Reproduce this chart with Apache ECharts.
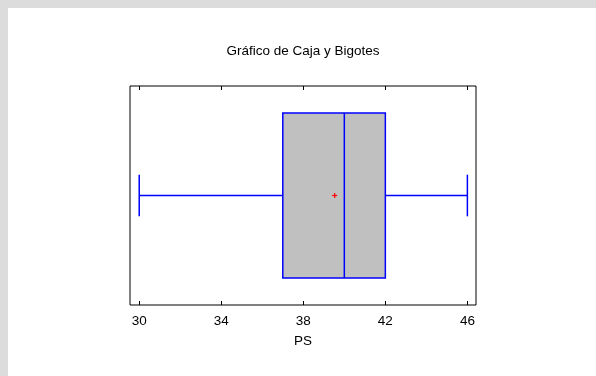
<!DOCTYPE html>
<html>
<head>
<meta charset="utf-8">
<script src="https://cdn.jsdelivr.net/npm/echarts@6/dist/echarts.min.js"></script>
<style>
  html, body { margin: 0; padding: 0; background: #dcdcdc; }
  #wrap { position: absolute; left: 8px; top: 8px; width: 588px; height: 368px; background: #ffffff; }
  #chart { position: absolute; left: -8px; top: -8px; width: 596px; height: 376px; }
</style>
</head>
<body>
<div id="wrap"><div id="chart"></div></div>
<script>
// Variable name and five-number summary plus mean
const categories = ['PS'];
const whiskerLow = [30];
const quartile1 = [37];
const median = [40];
const quartile3 = [42];
const whiskerHigh = [46];
const mean = [39.53];
const tickValues = [30, 34, 38, 42, 46];

const seriesData = categories.map((c, i) => [
  i, whiskerLow[i], quartile1[i], median[i], quartile3[i], whiskerHigh[i], mean[i]
]);

const BLUE = '#0000ff';
const X_MIN = 29.55;
const X_MAX = 46.42;
const GRID = { left: 130, top: 86, width: 346, height: 219 };

function renderBox(params, api) {
  const cat = api.value(0);
  const lo = api.coord([api.value(1), cat]);
  const q1 = api.coord([api.value(2), cat]);
  const md = api.coord([api.value(3), cat]);
  const q3 = api.coord([api.value(4), cat]);
  const hi = api.coord([api.value(5), cat]);
  const mn = api.coord([api.value(6), cat]);
  const band = api.size([0, 1])[1];
  const boxH = band * 0.753;
  const capH = band * 0.19;
  const cy = lo[1];
  const lineStyle = { stroke: BLUE, lineWidth: 1.5, fill: null };
  return {
    type: 'group',
    children: [
      { type: 'line', shape: { x1: lo[0], y1: cy, x2: q1[0], y2: cy }, style: lineStyle },
      { type: 'line', shape: { x1: q3[0], y1: cy, x2: hi[0], y2: cy }, style: lineStyle },
      { type: 'line', shape: { x1: lo[0], y1: cy - capH / 2, x2: lo[0], y2: cy + capH / 2 }, style: lineStyle },
      { type: 'line', shape: { x1: hi[0], y1: cy - capH / 2, x2: hi[0], y2: cy + capH / 2 }, style: lineStyle },
      { type: 'rect', shape: { x: q1[0], y: cy - boxH / 2, width: q3[0] - q1[0], height: boxH },
        style: { fill: '#c0c0c0', stroke: BLUE, lineWidth: 1.5 } },
      { type: 'line', shape: { x1: md[0], y1: cy - boxH / 2, x2: md[0], y2: cy + boxH / 2 }, style: lineStyle },
      { type: 'line', shape: { x1: mn[0] - 2.5, y1: mn[1], x2: mn[0] + 2.5, y2: mn[1] },
        style: { stroke: '#ff0000', lineWidth: 1.2 } },
      { type: 'line', shape: { x1: mn[0], y1: mn[1] - 2.5, x2: mn[0], y2: mn[1] + 2.5 },
        style: { stroke: '#ff0000', lineWidth: 1.2 } }
    ]
  };
}

const chart = echarts.init(document.getElementById('chart'), null, { renderer: 'canvas' });
const FONT = 'Liberation Sans, Arial, sans-serif';
const FS = 13.5;

chart.setOption({
  animation: false,
  backgroundColor: 'transparent',
  // Title centred over the plot frame
  graphic: [{
    type: 'text',
    x: GRID.left + GRID.width / 2,
    y: 51,
    style: {
      text: 'Gráfico de Caja y Bigotes',
      align: 'center', verticalAlign: 'middle',
      font: FS + 'px ' + FONT, fill: '#000'
    }
  }],
  grid: {
    left: GRID.left, top: GRID.top, width: GRID.width, height: GRID.height,
    show: true, borderColor: '#000', borderWidth: 1, backgroundColor: 'transparent'
  },
  xAxis: [
    {
      type: 'value', position: 'bottom', min: X_MIN, max: X_MAX,
      name: 'PS', nameLocation: 'middle', nameGap: 29,
      nameTextStyle: { fontFamily: FONT, fontSize: FS, color: '#000' },
      axisLine: { show: false },
      splitLine: { show: false },
      axisTick: { show: true, inside: true, length: 4, customValues: tickValues,
        lineStyle: { color: '#000', width: 1 } },
      axisLabel: { customValues: tickValues, margin: 9, fontFamily: FONT, fontSize: FS, color: '#000' }
    },
    {
      type: 'value', position: 'top', min: X_MIN, max: X_MAX,
      axisLine: { show: false },
      splitLine: { show: false },
      axisTick: { show: true, inside: true, length: 4, customValues: tickValues,
        lineStyle: { color: '#000', width: 1 } },
      axisLabel: { show: false, customValues: tickValues }
    }
  ],
  yAxis: {
    type: 'category', data: categories,
    axisLine: { show: false }, axisTick: { show: false }, axisLabel: { show: false },
    splitLine: { show: false }
  },
  series: [{
    type: 'custom',
    xAxisIndex: 0,
    renderItem: renderBox,
    encode: { x: [1, 2, 3, 4, 5, 6], y: 0 },
    data: seriesData
  }]
});
</script>
</body>
</html>
